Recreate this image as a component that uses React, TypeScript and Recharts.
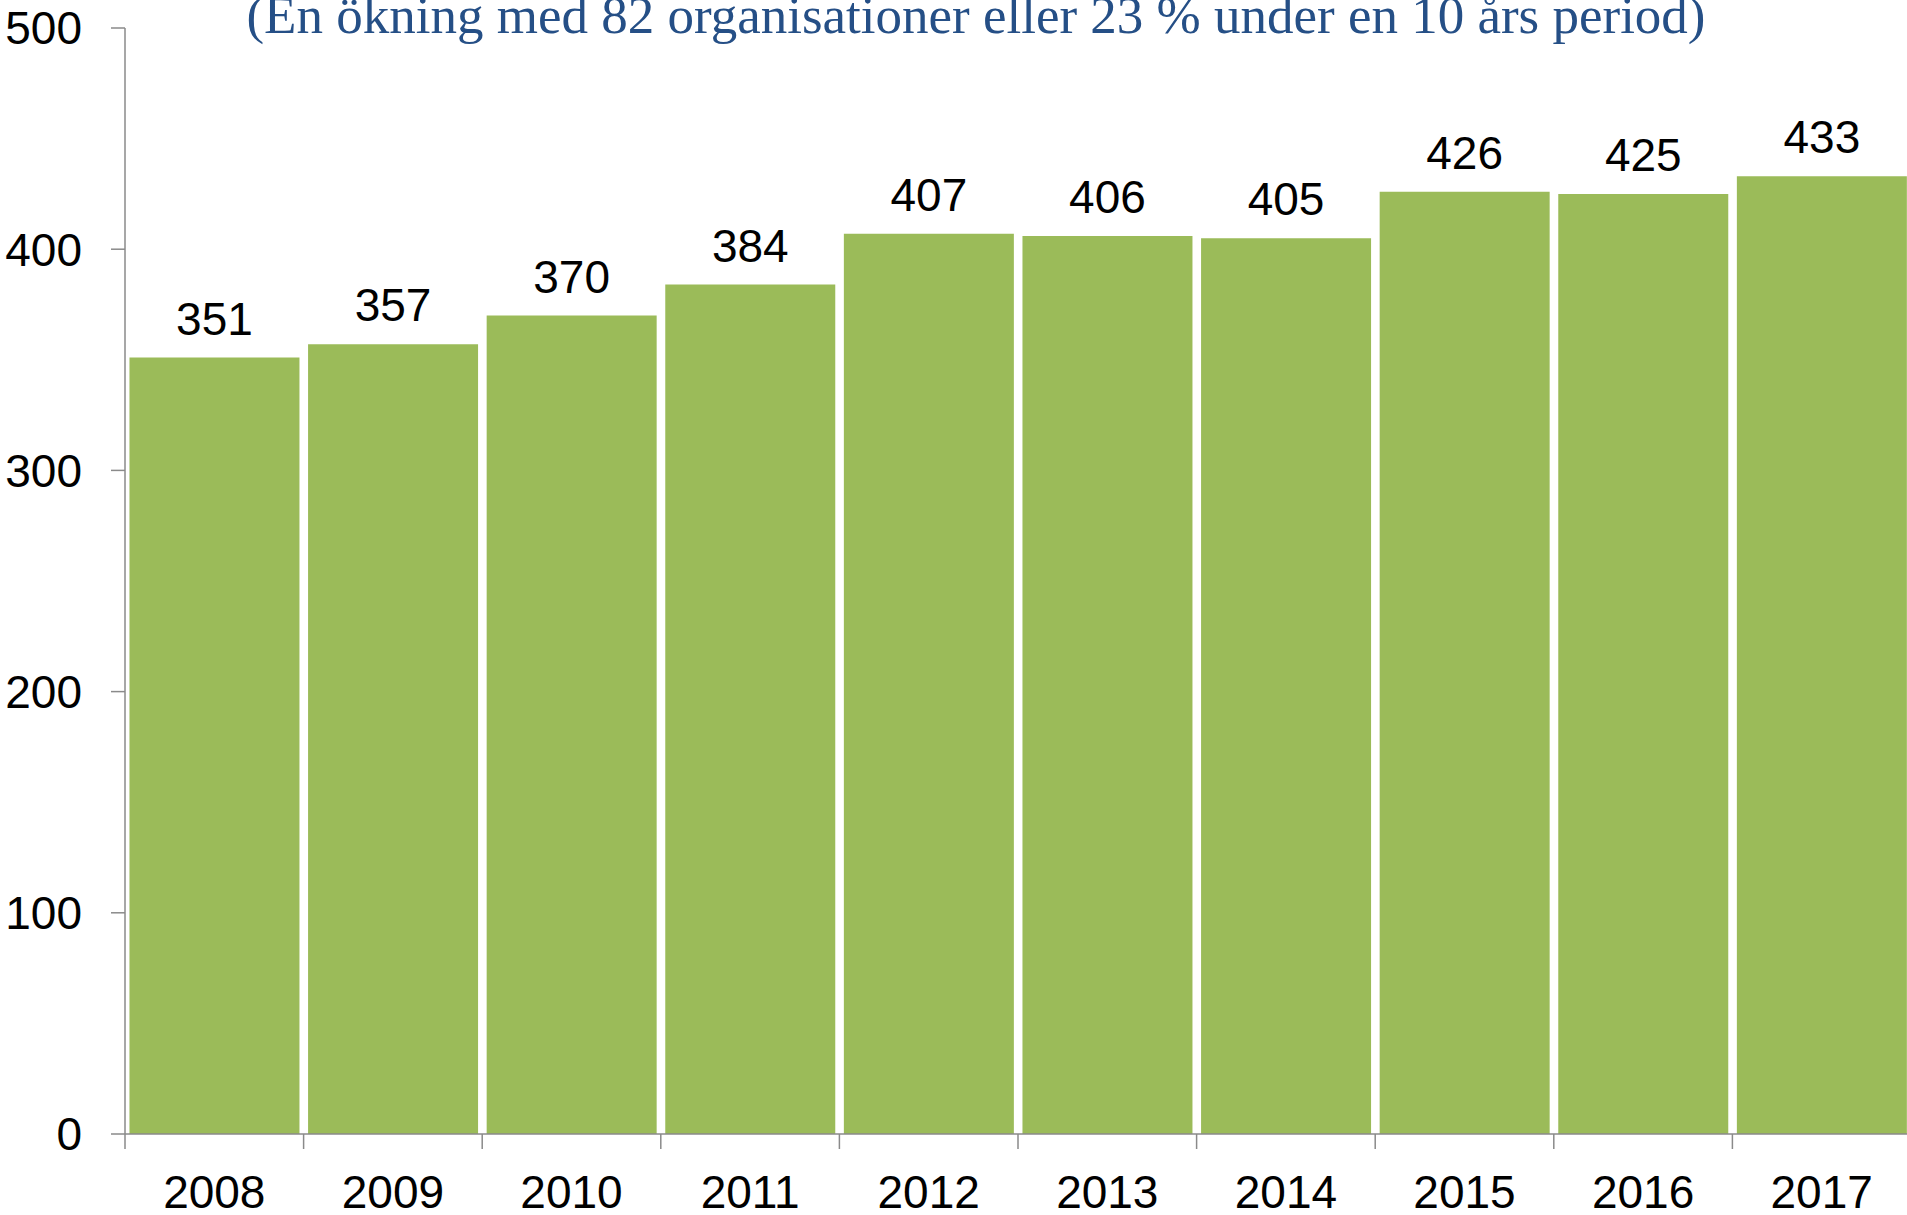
import React from 'react';
import { BarChart, Bar, XAxis, YAxis, LabelList } from 'recharts';

const years = ['2008', '2009', '2010', '2011', '2012', '2013', '2014', '2015', '2016', '2017'];
const organisations = [351, 357, 370, 384, 407, 406, 405, 426, 425, 433];
const yTicks = [0, 100, 200, 300, 400, 500];
const subtitle = '(En ökning med 82 organisationer eller 23 % under en 10 års period)';

const data = years.map((year, i) => ({ year, value: organisations[i] }));

const AXIS_GRAY = '#8a8a8a';
const FONT = '"Liberation Sans", Arial, sans-serif';
const X_TICK_SIZE = 15;
const X_TICK_MARGIN = 26;

// tick marks sit on the category boundaries, labels in the middle
const YearTick = (props: any) => {
    const { x, y, payload, width, visibleTicksCount } = props;
    const half = payload?.offset ?? (width / (visibleTicksCount || years.length)) / 2;
    const axisY = y - X_TICK_SIZE - X_TICK_MARGIN;
    return (
        <g>
            <line x1={x - half} x2={x - half} y1={axisY} y2={axisY + X_TICK_SIZE} stroke={AXIS_GRAY} strokeWidth={1.5} />
            <text x={x} y={y} dy="0.71em" textAnchor="middle" fill="#000" fontSize={46} fontFamily={FONT}>
                {payload.value}
            </text>
        </g>
    );
};

const App = () => {
    return (
        <div style={{ position: 'absolute', left: 0, top: 0, width: 1907, height: 1215, overflow: 'hidden', background: '#fff' }}>
            <BarChart
                width={1911}
                height={1215}
                data={data}
                margin={{ top: 28, right: 0, left: 0, bottom: 0 }}
                barCategoryGap="2.5%"
            >
                <XAxis
                    dataKey="year"
                    height={81}
                    tickLine={false}
                    tickSize={X_TICK_SIZE}
                    tickMargin={X_TICK_MARGIN}
                    axisLine={{ stroke: AXIS_GRAY, strokeWidth: 1.5 }}
                    tick={<YearTick />}
                    interval={0}
                />
                <YAxis
                    width={125}
                    domain={[0, 500]}
                    ticks={yTicks}
                    tickSize={14}
                    tickMargin={29}
                    axisLine={{ stroke: AXIS_GRAY, strokeWidth: 1.5 }}
                    tickLine={{ stroke: AXIS_GRAY, strokeWidth: 1.5 }}
                    tick={{ fill: '#000', fontSize: 46, fontFamily: FONT }}
                />
                <Bar dataKey="value" fill="#9bbb59" isAnimationActive={false}>
                    <LabelList dataKey="value" position="top" offset={23} fill="#000" fontSize={46} fontFamily={FONT} />
                </Bar>
            </BarChart>
            <svg width={1907} height={60} style={{ position: 'absolute', left: 0, top: 0 }}>
                <text x={976} y={33} textAnchor="middle" fill="#254f86" fontSize={53} fontFamily='"Liberation Serif", "Times New Roman", serif'>
                    {subtitle}
                </text>
            </svg>
        </div>
    );
};

export default App;
